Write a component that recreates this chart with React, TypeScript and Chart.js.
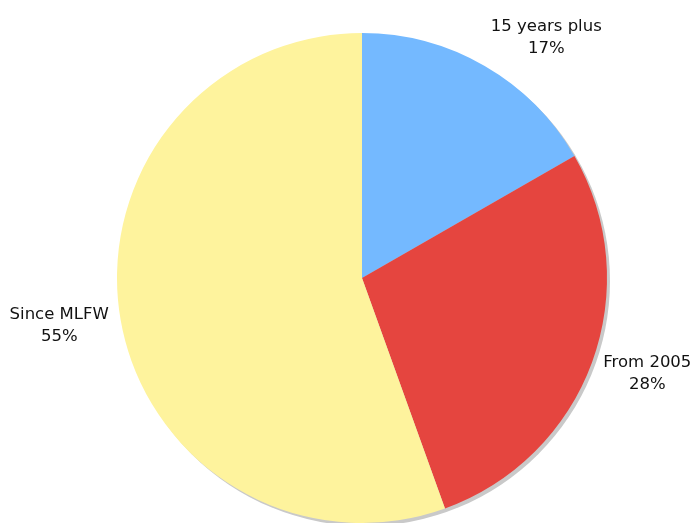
import React, { useEffect, useRef } from "react";
import { Chart, registerables } from "chart.js";

Chart.register(...registerables);

const categories = ["15 years plus", "From 2005", "Since MLFW"];
const values = [16.7, 27.8, 55.5];
const percentLabels = ["17%", "28%", "55%"];
const colors = ["#74B9FF", "#E5453F", "#FEF39D"];

const FONT = "16.5px 'DejaVu Sans'";

const shadowPlugin = {
  id: "pieShadow",
  beforeDatasetsDraw(chart: any) {
    const meta = chart.getDatasetMeta(0);
    const arc = meta.data[0];
    if (!arc) return;
    const { x, y, outerRadius } = arc.getProps(["x", "y", "outerRadius"], true);
    const ctx = chart.ctx;
    ctx.save();
    ctx.fillStyle = "#C9C9C9";
    ctx.beginPath();
    ctx.arc(x + 3, y + 3, outerRadius, 0, Math.PI * 2);
    ctx.fill();
    ctx.restore();
  },
};

const labelPlugin = {
  id: "outerLabels",
  afterDatasetsDraw(chart: any) {
    const meta = chart.getDatasetMeta(0);
    const ctx = chart.ctx;
    ctx.save();
    ctx.font = FONT;
    ctx.fillStyle = "#111111";
    ctx.textBaseline = "middle";
    const lineH = 22;
    const halfBlock = 21;
    meta.data.forEach((arc: any, i: number) => {
      const { x, y, startAngle, endAngle, outerRadius } = arc.getProps(
        ["x", "y", "startAngle", "endAngle", "outerRadius"],
        true
      );
      const mid = (startAngle + endAngle) / 2;
      const dist = outerRadius + 12;
      const c = Math.cos(mid);
      const s = Math.sin(mid);
      const px = x + c * dist;
      const py = y + s * dist;
      const w = Math.max(
        ctx.measureText(categories[i]).width,
        ctx.measureText(percentLabels[i]).width
      );
      const cx = c >= 0 ? px + w / 2 : px - w / 2;
      const cy = py + s * halfBlock;
      ctx.textAlign = "center";
      ctx.fillText(categories[i], cx, cy - lineH / 2);
      ctx.fillText(percentLabels[i], cx, cy + lineH / 2);
    });
    ctx.restore();
  },
};

export default function App() {
  const ref = useRef<HTMLCanvasElement | null>(null);
  useEffect(() => {
    if (!ref.current) return;
    let chart: any = null;
    let cancelled = false;
    const make = () => {
      if (cancelled || !ref.current) return;
      chart = new Chart(ref.current, {
        type: "pie",
        data: {
          labels: categories,
          datasets: [
            {
              data: values,
              backgroundColor: colors,
              borderWidth: 0,
            },
          ],
        },
        options: {
          responsive: false,
          animation: false,
          layout: { padding: { left: 117, right: 84, top: 33, bottom: 0 } },
          plugins: {
            legend: { display: false },
            tooltip: { enabled: false },
          },
        },
        plugins: [shadowPlugin, labelPlugin],
      });
    };
    const fontsApi: any = (document as any).fonts;
    if (fontsApi && fontsApi.load) {
      fontsApi.load(FONT).then(make, make);
    } else {
      make();
    }
    return () => {
      cancelled = true;
      if (chart) chart.destroy();
    };
  }, []);
  return (
    <div style={{ position: "fixed", left: 0, top: 0, width: 691, height: 523, background: "#fff" }}>
      <canvas ref={ref} width={691} height={523} style={{ display: "block" }} />
    </div>
  );
}
